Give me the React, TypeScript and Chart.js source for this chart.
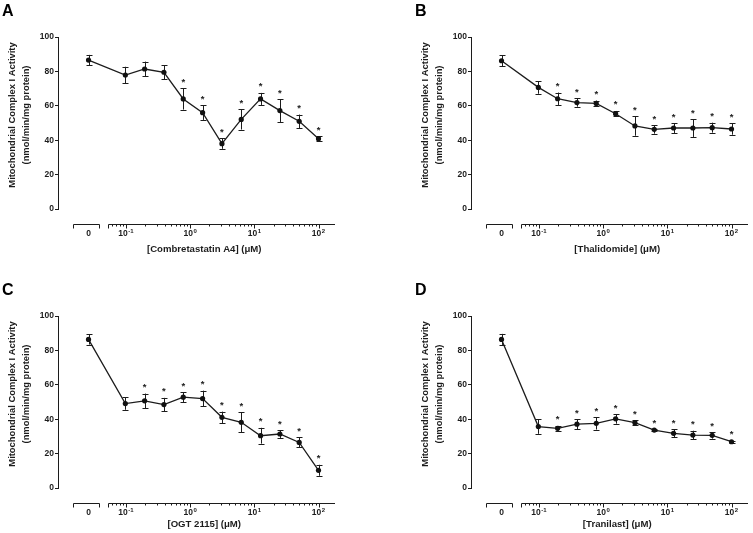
import React, { useEffect, useRef } from 'react';
import { Chart, registerables } from 'chart.js';

Chart.register(...registerables);

// ---------- data ----------
const concentrations = [0, 0.0977, 0.195, 0.39, 0.78, 1.5625, 3.125, 6.25, 12.5, 25, 50, 100];
const xTickDecades = [0, 0.1, 1, 10, 100];
const xTickBases = ['0', '10', '10', '10', '10'];
const xTickExponents = ['', '-1', '0', '1', '2'];
const yTicks = [0, 20, 40, 60, 80, 100];

const valuesA = [86.6, 77.9, 81.4, 79.5, 64.0, 56.0, 38.0, 52.1, 64.0, 57.2, 51.0, 40.9];
const errorsA = [3.0, 4.8, 4.3, 4.1, 6.2, 4.2, 3.0, 5.9, 3.5, 6.6, 3.9, 1.5];
const starsA = [0, 0, 0, 0, 1, 1, 1, 1, 1, 1, 1, 1];

const valuesB = [86.2, 70.7, 64.1, 61.9, 61.4, 55.4, 48.3, 46.3, 47.1, 47.1, 47.3, 46.5];
const errorsB = [3.2, 3.7, 3.6, 2.4, 1.6, 1.6, 5.7, 2.5, 2.9, 5.2, 2.9, 3.3];
const starsB = [0, 0, 1, 1, 1, 1, 1, 1, 1, 1, 1, 1];

const valuesC = [86.4, 49.1, 50.7, 48.5, 52.8, 52.0, 41.1, 38.2, 30.4, 31.4, 26.5, 10.3];
const errorsC = [3.0, 3.6, 4.2, 3.9, 2.9, 4.6, 3.3, 5.7, 4.6, 2.3, 2.9, 3.2];
const starsC = [0, 0, 1, 1, 1, 1, 1, 1, 1, 1, 1, 1];

const valuesD = [86.4, 35.7, 34.7, 37.1, 37.6, 40.2, 38.0, 33.7, 31.8, 30.8, 30.6, 26.9];
const errorsD = [3.2, 4.2, 1.4, 2.9, 3.6, 2.8, 1.4, 0.6, 2.3, 2.5, 1.9, 0.6];
const starsD = [0, 0, 1, 1, 1, 1, 1, 1, 1, 1, 1, 1];

const yTitleLines = ['Mitochondrial Complex I Activity', '(nmol/min/mg protein)'];

// ---------- geometry of the broken log axis (in log10 units) ----------
const U_ZERO = -1.584; // where concentration 0 is placed
const X_MIN = -2.044;
const X_MAX = 2.257;
const ZERO_SEG = [-1.826, -1.421];
const LOG_START = -1.28;
const Y_MIN = -8.72;
const Y_MAX = 100;

const toU = (c: number) => (c === 0 ? U_ZERO : Math.log10(c));

const CW = 340;
const CH = 254;
const FONT = '"Liberation Sans", Arial, Helvetica, sans-serif';
const INK = '#1c1c1c';

type PanelCfg = {
  letter: string;
  xTitle: string;
  values: number[];
  errors: number[];
  stars: number[];
  left: number;
  top: number;
  titleY: number;
};

const panels: PanelCfg[] = [
  { letter: 'A', xTitle: '[Combretastatin A4] (\u03BCM)', values: valuesA, errors: errorsA, stars: starsA, left: 0, top: 0, titleY: 249 },
  { letter: 'B', xTitle: '[Thalidomide] (\u03BCM)', values: valuesB, errors: errorsB, stars: starsB, left: 413, top: 0, titleY: 249 },
  { letter: 'C', xTitle: '[OGT 2115] (\u03BCM)', values: valuesC, errors: errorsC, stars: starsC, left: 0, top: 279, titleY: 245.5 },
  { letter: 'D', xTitle: '[Tranilast] (\u03BCM)', values: valuesD, errors: errorsD, stars: starsD, left: 413, top: 279, titleY: 245 },
];

function makeDecor(cfg: PanelCfg) {
  return {
    id: 'decor' + cfg.letter,
    beforeDatasetsDraw(chart: any) {
      const { ctx } = chart;
      const xs = chart.scales.x;
      const ys = chart.scales.y;
      ctx.save();
      ctx.strokeStyle = INK;
      ctx.lineWidth = 1;
      concentrations.forEach((c, i) => {
        const x = Math.round(xs.getPixelForValue(toU(c))) + 0.5;
        const v = cfg.values[i];
        const e = cfg.errors[i];
        const yt = ys.getPixelForValue(v + e);
        const yb = ys.getPixelForValue(v - e);
        ctx.beginPath();
        ctx.moveTo(x, yt);
        ctx.lineTo(x, yb);
        ctx.moveTo(x - 3, Math.round(yt) + 0.5);
        ctx.lineTo(x + 3, Math.round(yt) + 0.5);
        ctx.moveTo(x - 3, Math.round(yb) + 0.5);
        ctx.lineTo(x + 3, Math.round(yb) + 0.5);
        ctx.stroke();
      });
      ctx.restore();
    },
    afterDraw(chart: any) {
      const { ctx, chartArea } = chart;
      const xs = chart.scales.x;
      const ys = chart.scales.y;
      ctx.save();
      ctx.strokeStyle = INK;
      ctx.fillStyle = INK;
      ctx.lineWidth = 1;

      // y axis line (0..100)
      const yx = Math.round(chartArea.left) - 0.5;
      ctx.beginPath();
      ctx.moveTo(yx, Math.round(ys.getPixelForValue(0)) + 0.5);
      ctx.lineTo(yx, Math.round(ys.getPixelForValue(100)));
      ctx.stroke();

      // x axis with break
      const ax = Math.round(chartArea.bottom) + 0.5;
      const z0 = Math.round(xs.getPixelForValue(ZERO_SEG[0])) + 0.5;
      const z1 = Math.round(xs.getPixelForValue(ZERO_SEG[1])) + 0.5;
      const l0 = Math.round(xs.getPixelForValue(LOG_START)) + 0.5;
      const l1 = chartArea.right;
      ctx.beginPath();
      ctx.moveTo(z0, ax);
      ctx.lineTo(z1, ax);
      ctx.moveTo(z0, ax);
      ctx.lineTo(z0, ax + 4);
      ctx.moveTo(z1, ax);
      ctx.lineTo(z1, ax + 4);
      ctx.moveTo(l0, ax);
      ctx.lineTo(l1, ax);
      ctx.moveTo(l0, ax);
      ctx.lineTo(l0, ax + 4);
      // major ticks
      for (let d = -1; d <= 2; d++) {
        const px = Math.round(xs.getPixelForValue(d)) + 0.5;
        ctx.moveTo(px, ax);
        ctx.lineTo(px, ax + 4);
      }
      // minor ticks
      for (let d = -2; d <= 2; d++) {
        for (let k = 2; k <= 9; k++) {
          const u = d + Math.log10(k);
          if (u <= LOG_START || u >= X_MAX) continue;
          const px = Math.round(xs.getPixelForValue(u)) + 0.5;
          ctx.moveTo(px, ax);
          ctx.lineTo(px, ax + 2);
        }
      }
      ctx.stroke();

      // x tick labels (base + raised exponent)
      ctx.textBaseline = 'alphabetic';
      ctx.textAlign = 'left';
      const baseFont = `bold 8.5px ${FONT}`;
      const expFont = `bold 6px ${FONT}`;
      xTickDecades.forEach((c, i) => {
        const px = xs.getPixelForValue(toU(c));
        ctx.font = baseFont;
        const wb = ctx.measureText(xTickBases[i]).width;
        ctx.font = expFont;
        const we = xTickExponents[i] ? ctx.measureText(xTickExponents[i]).width + 0.5 : 0;
        const sx = px - (wb + we) / 2;
        ctx.font = baseFont;
        ctx.fillText(xTickBases[i], sx, ax + 11.5);
        if (xTickExponents[i]) {
          ctx.font = expFont;
          ctx.fillText(xTickExponents[i], sx + wb + 0.5, ax + 8);
        }
      });

      // stars
      ctx.font = `bold 9.5px ${FONT}`;
      ctx.textAlign = 'center';
      ctx.textBaseline = 'alphabetic';
      concentrations.forEach((c, i) => {
        if (!cfg.stars[i]) return;
        const x = xs.getPixelForValue(toU(c));
        const yt = ys.getPixelForValue(cfg.values[i] + cfg.errors[i]);
        ctx.fillText('*', x, yt - 3.5);
      });

      // x title
      ctx.font = `bold 9.6px ${FONT}`;
      ctx.textBaseline = 'middle';
      ctx.fillText(cfg.xTitle, (z0 + l1) / 2, cfg.titleY);

      // y title
      ctx.save();
      ctx.translate(12, 115);
      ctx.rotate(-Math.PI / 2);
      ctx.font = `bold 9.4px ${FONT}`;
      ctx.fillText(yTitleLines[0], 0, 0);
      ctx.fillText(yTitleLines[1], 0, 14);
      ctx.restore();

      // panel letter
      ctx.font = `bold 16px ${FONT}`;
      ctx.textAlign = 'left';
      ctx.textBaseline = 'alphabetic';
      ctx.fillStyle = '#000';
      ctx.fillText(cfg.letter, 2, 16);

      ctx.restore();
    },
  };
}

function Panel({ cfg }: { cfg: PanelCfg }) {
  const ref = useRef<HTMLCanvasElement>(null);
  useEffect(() => {
    if (!ref.current) return;
    const chart = new Chart(ref.current, {
      type: 'line',
      data: {
        datasets: [
          {
            data: concentrations.map((c, i) => ({ x: toU(c), y: cfg.values[i] })),
            borderColor: INK,
            borderWidth: 1.3,
            pointRadius: 2.6,
            pointBackgroundColor: '#111',
            pointBorderWidth: 0,
            tension: 0,
            clip: false as any,
          },
        ],
      },
      options: {
        animation: false,
        responsive: false,
        events: [],
        layout: { padding: { top: 37, right: 5, left: 0, bottom: 0 } },
        plugins: { legend: { display: false }, tooltip: { enabled: false } },
        scales: {
          x: {
            type: 'linear',
            min: X_MIN,
            max: X_MAX,
            afterBuildTicks: (s: any) => {
              s.ticks = xTickDecades.map((c) => ({ value: toU(c) }));
            },
            afterFit: (s: any) => {
              s.height = CH - 224;
            },
            grid: { display: false, drawTicks: false },
            border: { display: false },
            ticks: { display: false },
          },
          y: {
            type: 'linear',
            min: Y_MIN,
            max: Y_MAX,
            afterBuildTicks: (s: any) => {
              s.ticks = yTicks.map((v) => ({ value: v }));
            },
            afterFit: (s: any) => {
              s.width = 59;
            },
            grid: {
              display: true,
              drawOnChartArea: false,
              drawTicks: true,
              tickLength: 4,
              color: INK,
              lineWidth: 1,
            },
            border: { display: false },
            ticks: {
              padding: 1,
              color: INK,
              font: { family: FONT, size: 8.5, weight: 'bold' },
            },
          },
        },
      } as any,
      plugins: [makeDecor(cfg)],
    });
    return () => chart.destroy();
  }, [cfg]);
  return (
    <div style={{ position: 'absolute', left: cfg.left, top: cfg.top, width: CW, height: CH }}>
      <canvas ref={ref} width={CW} height={CH} style={{ width: CW, height: CH, display: 'block' }} />
    </div>
  );
}

export default function App() {
  return (
    <div style={{ position: 'fixed', left: 0, top: 0, width: 753, height: 533, overflow: 'hidden', background: '#fff' }}>
      {panels.map((p) => (
        <Panel key={p.letter} cfg={p} />
      ))}
    </div>
  );
}
